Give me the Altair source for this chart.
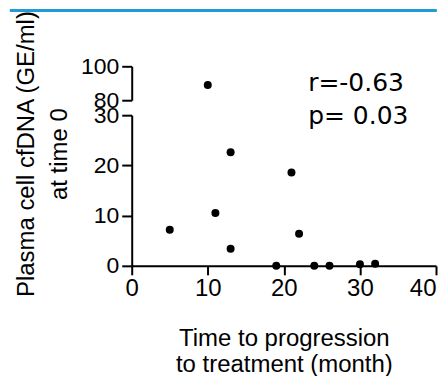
import altair as alt
import pandas as pd

# Data
months = [5, 10, 11, 13, 13, 19, 21, 22, 24, 26, 30, 32]
cfdna = [7.2, 89, 10.5, 22.6, 3.4, 0.0, 18.6, 6.4, 0.0, 0.0, 0.3, 0.4]

x_ticks = [0, 10, 20, 30, 40]
low_ticks = [0, 10, 20, 30]
high_ticks = [80, 100]
stats_text = ["r=-0.63", "p= 0.03"]

df = pd.DataFrame({"month": months, "cfdna": cfdna})

W = 305
FONT = "Liberation Sans"
x_scale = alt.Scale(domain=[0, 40], nice=False, zero=False)

base = alt.Chart(df)

# ---- upper segment (80-100)
up_pts = base.transform_filter("datum.cfdna >= 80").mark_circle(
    size=64, color="black", opacity=1
).encode(
    x=alt.X("month:Q", scale=x_scale, axis=None),
    y=alt.Y("cfdna:Q", scale=alt.Scale(domain=[80, 100], nice=False, zero=False),
            axis=alt.Axis(values=high_ticks, title=None, labelFontSize=23, labelFont=FONT,
                          labelColor="black", tickSize=10, tickWidth=2, tickColor="black",
                          domainWidth=2, domainColor="black", labelPadding=3, grid=False)),
)
r_txt = alt.Chart(pd.DataFrame({"t": [stats_text[0]], "x": [23.2], "y": [85.3]})).mark_text(
    align="left", baseline="alphabetic", font="DejaVu Sans", fontSize=25, color="black"
).encode(x=alt.X("x:Q", scale=x_scale), y=alt.Y("y:Q"), text="t:N")

blue = alt.Chart(pd.DataFrame({"a": [0]})).mark_rule(color="#1e9cd7", strokeWidth=3).encode(
    x=alt.value(-122.2), x2=alt.value(305.8), y=alt.value(-56)
)

upper = alt.layer(blue, up_pts, r_txt).properties(width=W, height=34)

# ---- lower segment (0-30)
low_pts = base.transform_filter("datum.cfdna <= 30").mark_circle(
    size=64, color="black", opacity=1
).encode(
    x=alt.X("month:Q", scale=x_scale,
            axis=alt.Axis(values=x_ticks, title=["Time to progression", "to treatment (month)"],
                          titleFontSize=24, titleFont=FONT, titleFontWeight="normal",
                          titleColor="black", titleLineHeight=26.7, titleBaseline="alphabetic",
                          titleY=79.7,
                          labelFontSize=24, labelFont=FONT, labelColor="black", labelFlush=False,
                          labelAlign={"condition": {"test": "datum.value >= 40", "value": "right"},
                                      "value": "center"},
                          labelPadding=2, tickSize=9, tickWidth=2, tickColor="black",
                          domainWidth=2, domainColor="black", grid=False)),
    y=alt.Y("cfdna:Q", scale=alt.Scale(domain=[0, 30], nice=False, zero=False),
            axis=alt.Axis(values=low_ticks, title=["Plasma cell cfDNA (GE/ml)", "at time 0"],
                          titleFontSize=24, titleFont=FONT, titleFontWeight="normal",
                          titleColor="black", titleLineHeight=33, titleBaseline="alphabetic",
                          titleAngle=270, titleX=-98.7, titleY=38.5,
                          labelFontSize=23, labelFont=FONT, labelColor="black",
                          tickSize=10, tickWidth=2, tickColor="black",
                          domainWidth=2, domainColor="black", labelPadding=3, grid=False)),
)
p_txt = alt.Chart(pd.DataFrame({"t": [stats_text[1]], "x": [23.2], "y": [28.2]})).mark_text(
    align="left", baseline="alphabetic", font="DejaVu Sans", fontSize=25, color="black"
).encode(x=alt.X("x:Q", scale=x_scale), y=alt.Y("y:Q"), text="t:N")

lower = alt.layer(low_pts, p_txt).properties(width=W, height=151)

chart = alt.vconcat(upper, lower, spacing=15, bounds="flush").properties(
    padding=0, background="white"
).configure_view(stroke=None)

chart.save("out.html", embed_options={"renderer": "svg", "actions": False})
